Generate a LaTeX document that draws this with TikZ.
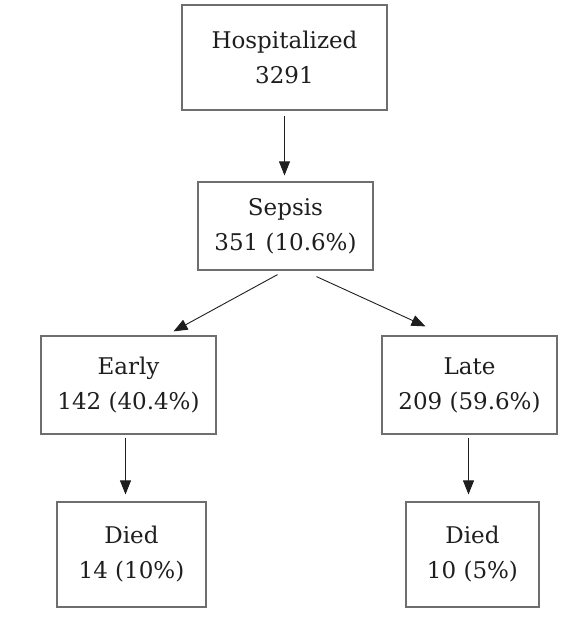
\documentclass[tikz,border=0pt]{standalone}
\usepackage{fontspec}
\setmainfont{DejaVu Serif}
\usetikzlibrary{arrows.meta}

\definecolor{boxline}{HTML}{6E6E6E}
\definecolor{inkgray}{HTML}{1E1E1E}

\begin{document}
\begin{tikzpicture}[x=1pt,y=-1pt,
    stage/.style={draw=boxline,line width=1.2pt,align=center,inner sep=0pt,
      text=inkgray,font=\fontsize{23}{35}\selectfont},
    flow/.style={draw=inkgray,line width=0.9pt,-{Triangle[length=14pt,width=11pt]}}]
  \useasboundingbox (0,0) rectangle (585,619);
  \node[stage,minimum width=205pt,minimum height=105pt] (hosp) at (284.5,57.5) {Hospitalized\\3291};
  \node[stage,minimum width=175pt,minimum height=88pt] (sepsis) at (285.5,226) {Sepsis\\351 (10.6\%)};
  \node[stage,minimum width=175pt,minimum height=98pt] (early) at (128.5,385) {Early\\142 (40.4\%)};
  \node[stage,minimum width=175pt,minimum height=98pt] (late) at (469.5,385) {Late\\209 (59.6\%)};
  \node[stage,minimum width=149pt,minimum height=105pt] (diedE) at (131.5,554.5) {Died\\14 (10\%)};
  \node[stage,minimum width=133pt,minimum height=105pt] (diedL) at (472.5,554.5) {Died\\10 (5\%)};
  % connectors
  \draw[flow,shorten <=5pt,shorten >=6pt] (hosp.south) -- (hosp.south |- sepsis.north);
  \draw[flow] ([xshift=-8pt,yshift=-4pt]sepsis.south) -- ([xshift=45pt,yshift=4pt]early.north);
  \draw[flow] ([xshift=31pt,yshift=-6pt]sepsis.south) -- ([xshift=-44pt,yshift=9pt]late.north);
  \draw[flow,shorten <=3pt,shorten >=7pt] ([xshift=-3pt]early.south) -- ([xshift=-3pt]early.south |- diedE.north);
  \draw[flow,shorten <=3pt,shorten >=7pt] ([xshift=-1pt]late.south) -- ([xshift=-1pt]late.south |- diedL.north);
\end{tikzpicture}
\end{document}
